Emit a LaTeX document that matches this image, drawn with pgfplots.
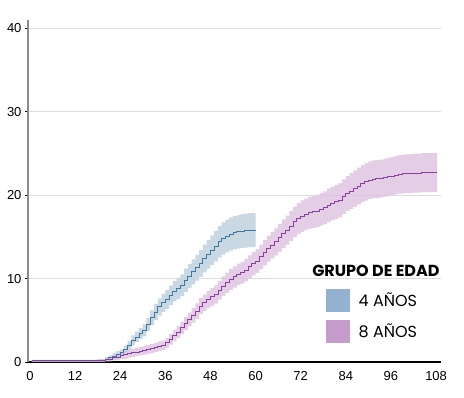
\documentclass[border=0pt]{standalone}
\usepackage{fontspec}
\setmainfont{Liberation Sans}
\newfontfamily\legfont{Poppins}
\usepackage{pgfplots}
\usepgfplotslibrary{fillbetween}
\pgfplotsset{compat=1.18}
\usepackage{pgfplotstable}
\definecolor{bandA}{HTML}{C6D6E0}
\definecolor{lineA}{HTML}{3D7AA0}
\definecolor{bandB}{HTML}{DCC2DF}
\definecolor{lineB}{HTML}{8A3FA0}
\definecolor{legA}{HTML}{93B2D1}
\definecolor{legB}{HTML}{C49BCA}
\definecolor{gridc}{HTML}{DDDDDD}
\pgfplotstableread{
t v lo hi
0.5 0.15 0.05 0.25
16 0.15 0.05 0.25
18 0.2 0.05 0.35
20 0.35 0.1 0.6
21 0.5 0.2 0.8
22 0.7 0.32 1.08
23 0.9 0.5 1.3
24 1.1 0.68 1.52
25 1.5 1.03 1.97
26 2.0 1.48 2.52
27 2.6 2.01 3.19
28 3.0 2.37 3.63
29 3.4 2.73 4.07
30 3.8 3.08 4.52
31 4.5 3.7 5.3
32 5.3 4.42 6.18
33 6.0 5.04 6.96
34 6.6 5.57 7.63
35 7.1 6.02 8.18
36 7.5 6.37 8.63
37 8.0 6.82 9.18
38 8.5 7.26 9.74
39 8.8 7.53 10.07
40 9.2 7.89 10.51
41 9.8 8.42 11.18
42 10.3 8.87 11.73
43 10.8 9.31 12.29
44 11.3 9.76 12.84
45 11.8 10.2 13.4
46 12.4 10.74 14.06
47 12.9 11.18 14.62
48 13.4 11.63 15.17
49 13.9 12.07 15.73
50 14.4 12.52 16.28
51 14.8 12.87 16.73
52 15.1 13.14 17.06
53 15.35 13.36 17.34
54 15.5 13.5 17.5
55 15.6 13.58 17.62
56 15.7 13.67 17.73
57 15.75 13.72 17.78
58 15.8 13.76 17.84
59 15.8 13.76 17.84
60 15.8 13.76 17.84
}\ageA
\pgfplotstableread{
t v lo hi
0.5 0.15 0.05 0.25
16 0.15 0.05 0.25
18 0.2 0.05 0.35
20 0.3 0.08 0.52
22 0.5 0.2 0.8
24 0.75 0.35 1.15
25 0.85 0.38 1.32
26 1.0 0.51 1.49
27 1.1 0.61 1.59
28 1.2 0.7 1.7
29 1.3 0.79 1.81
30 1.4 0.88 1.92
31 1.5 0.97 2.03
32 1.6 1.06 2.14
33 1.75 1.2 2.3
34 1.9 1.34 2.46
35 2.0 1.43 2.57
36 2.3 1.7 2.9
37 2.7 2.07 3.33
38 3.2 2.53 3.87
39 3.6 2.89 4.31
40 4.1 3.35 4.85
41 4.6 3.81 5.39
42 5.1 4.27 5.93
43 5.6 4.72 6.48
44 6.1 5.18 7.02
45 6.7 5.73 7.67
46 7.1 6.1 8.1
47 7.5 6.46 8.54
48 7.8 6.74 8.86
49 8.1 7.01 9.19
50 8.6 7.47 9.73
51 9.1 7.93 10.27
52 9.5 8.29 10.71
53 9.9 8.66 11.14
54 10.2 8.93 11.47
55 10.5 9.21 11.79
56 10.7 9.39 12.01
57 11.0 9.66 12.34
58 11.4 10.03 12.77
59 11.8 10.4 13.2
60 12.1 10.67 13.53
61 12.6 11.13 14.07
62 13.1 11.59 14.61
63 13.6 12.04 15.16
64 14.0 12.41 15.59
65 14.4 12.78 16.02
66 14.9 13.23 16.57
67 15.4 13.69 17.11
68 15.8 14.06 17.54
69 16.3 14.51 18.09
70 16.8 14.97 18.63
71 17.2 15.34 19.06
72 17.5 15.61 19.39
73 17.7 15.8 19.6
74 17.9 15.98 19.82
75 18.0 16.07 19.93
76 18.1 16.16 20.04
77 18.3 16.34 20.26
78 18.5 16.53 20.47
79 18.8 16.8 20.8
80 19.0 16.98 21.02
81 19.2 17.17 21.23
82 19.4 17.35 21.45
83 19.8 17.72 21.88
84 20.2 18.08 22.32
85 20.5 18.36 22.64
86 20.8 18.63 22.97
87 21.1 18.91 23.29
88 21.4 19.18 23.62
89 21.6 19.36 23.84
90 21.8 19.55 24.05
91 21.9 19.64 24.16
92 21.95 19.68 24.22
93 22.0 19.73 24.27
94 22.1 19.82 24.38
95 22.2 19.91 24.49
96 22.3 20.0 24.6
97 22.4 20.1 24.7
98 22.5 20.19 24.81
99 22.55 20.23 24.87
100 22.6 20.28 24.92
101 22.6 20.28 24.92
102 22.65 20.32 24.98
103 22.65 20.32 24.98
104 22.7 20.37 25.03
105 22.7 20.37 25.03
106 22.7 20.37 25.03
107 22.7 20.37 25.03
108.3 22.7 20.37 25.03
}\ageB
\begin{document}
\begin{tikzpicture}
\begin{axis}[
  scale only axis,
  width=413pt, height=342pt,
  xmin=-0.5, xmax=109.3,
  ymin=0, ymax=41,
  xtick={0,12,...,108},
  ytick={0,10,20,30,40},
  axis x line*=bottom,
  axis y line*=left,
  x axis line style={black, line width=1.3pt, -},
  y axis line style={gray!90, line width=1.6pt, -},
  xtick style={draw=none},
  ytick style={black, line width=0.8pt},
  x tick label style={yshift=-3pt},
  tick align=outside,
  major tick length=3pt,
  ymajorgrids,
  grid style={gridc, line width=0.8pt},
  tick label style={font=\fontsize{13}{15}\selectfont, text=black},
  /pgf/number format/assume math mode=true,
  clip=false,
  legend image code/.code={\fill[#1, draw=none] (0pt,-11.5pt) rectangle (24pt,11.5pt);},
  legend style={at={(axis cs:78.6,8.75)}, anchor=north west, draw=none, fill=none,
    inner sep=0pt, row sep=8pt, column sep=7pt,
    font=\legfont\fontsize{16}{18}\selectfont},
  legend cell align=left,
]
\addplot[const plot, draw=none, name path=Ahi, forget plot] table[x=t, y=hi] {\ageA};
\addplot[const plot, draw=none, name path=Alo, forget plot] table[x=t, y=lo] {\ageA};
\addplot[bandA, opacity=0.95, forget plot] fill between[of=Ahi and Alo];
\addplot[const plot, draw=none, name path=Bhi, forget plot] table[x=t, y=hi] {\ageB};
\addplot[const plot, draw=none, name path=Blo, forget plot] table[x=t, y=lo] {\ageB};
\addplot[bandB, opacity=0.8, forget plot] fill between[of=Bhi and Blo];
\addplot[const plot, lineA, line width=0.9pt, forget plot] table[x=t, y=v] {\ageA};
\addplot[const plot, lineB, line width=0.9pt, forget plot] table[x=t, y=v] {\ageB};
\addlegendimage{fill=legA, draw=none}
\addlegendentry{4 AÑOS}
\addlegendimage{fill=legB, draw=none}
\addlegendentry{8 AÑOS}
\node[font=\legfont\bfseries\fontsize{16}{18}\selectfont, anchor=center] at (axis cs:92.0,10.9) {GRUPO DE EDAD};
\end{axis}
\path (-28pt,-35pt) rectangle (436pt,362pt);
\end{tikzpicture}
\end{document}
